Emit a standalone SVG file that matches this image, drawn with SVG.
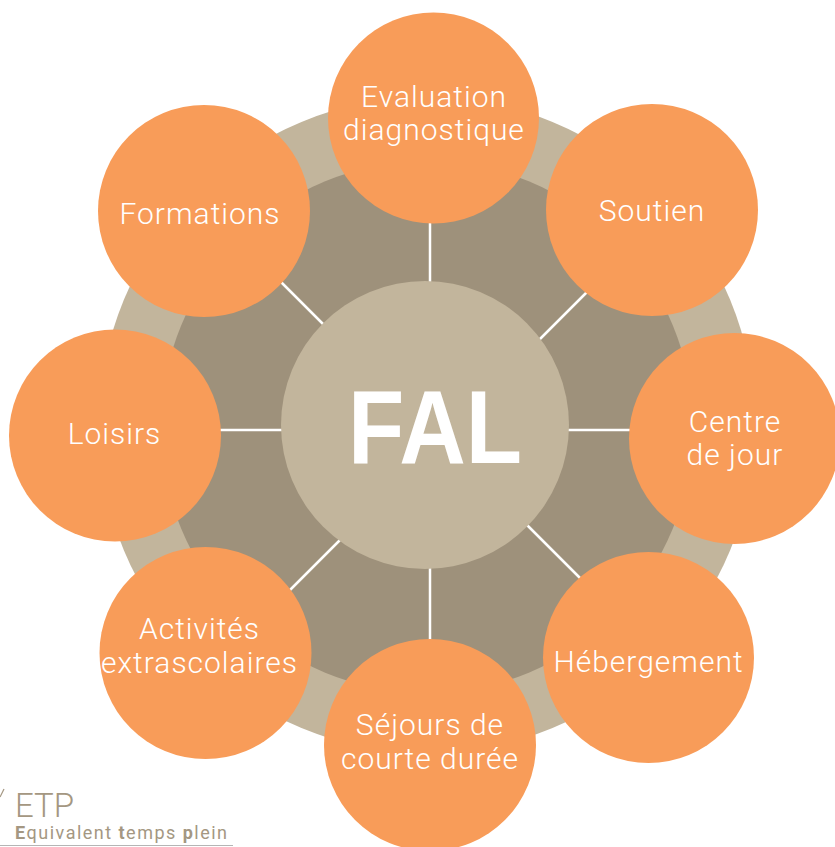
<svg xmlns="http://www.w3.org/2000/svg" width="835" height="847" viewBox="0 0 835 847">
  <style>
    .ring-outer { fill: #C2B59C; }
    .ring-inner { fill: #9E917B; }
    .spoke { stroke: #FFFFFF; stroke-width: 2.5; fill: none; }
    .hub { fill: #C2B59C; }
    .node { fill: #F89C59; }
    .lbl { font-family: Roboto, "Liberation Sans", "Noto Sans", sans-serif; font-size: 30px; font-weight: 300; fill: #FFFFFF; text-anchor: middle; letter-spacing: 1px; }
    .hubtxt { font-family: "Liberation Sans", Roboto, sans-serif; font-size: 104px; font-weight: bold; fill: #FFFFFF; text-anchor: middle; }
    .etp { font-family: Roboto, "Liberation Sans", sans-serif; fill: #A49782; }
  </style>
  <rect width="835" height="847" fill="#FFFFFF"/>

  <g id="rings">
    <circle class="ring-outer" cx="427" cy="425" r="328"/>
    <circle class="ring-inner" cx="427" cy="427" r="266"/>
  </g>

  <g id="connectors">
    <line class="spoke" x1="430" y1="200" x2="430" y2="300"/>
    <line class="spoke" x1="430" y1="550" x2="430" y2="660"/>
    <line class="spoke" x1="200" y1="430" x2="300" y2="430"/>
    <line class="spoke" x1="550" y1="430" x2="650" y2="430"/>
    <line class="spoke" x1="270" y1="271" x2="330" y2="331"/>
    <line class="spoke" x1="600" y1="279" x2="530" y2="349"/>
    <line class="spoke" x1="520" y1="518" x2="590" y2="588"/>
    <line class="spoke" x1="280" y1="600" x2="350" y2="530"/>
  </g>

  <g id="node-fal">
    <circle class="hub" cx="425" cy="425" r="144"/>
    <text class="hubtxt" x="435" y="463" textLength="174" lengthAdjust="spacingAndGlyphs">FAL</text>
  </g>

  <g id="node-evaluation">
    <circle class="node" cx="433.5" cy="118" r="105.5"/>
    <text class="lbl" x="434" y="107">Evaluation</text>
    <text class="lbl" x="434" y="140">diagnostique</text>
  </g>

  <g id="node-soutien">
    <circle class="node" cx="652" cy="210" r="106"/>
    <text class="lbl" x="652" y="221">Soutien</text>
  </g>

  <g id="node-centre">
    <circle class="node" cx="734.5" cy="438.5" r="105.5"/>
    <text class="lbl" x="735" y="432">Centre</text>
    <text class="lbl" x="735" y="465">de jour</text>
  </g>

  <g id="node-hebergement">
    <circle class="node" cx="648.5" cy="657.5" r="105.5"/>
    <text class="lbl" x="648.5" y="672">Hébergement</text>
  </g>

  <g id="node-sejours">
    <circle class="node" cx="430" cy="745" r="106"/>
    <text class="lbl" x="430" y="735">Séjours de</text>
    <text class="lbl" x="430" y="769">courte durée</text>
  </g>

  <g id="node-activites">
    <circle class="node" cx="205.5" cy="653" r="106"/>
    <text class="lbl" x="199.5" y="639">Activités</text>
    <text class="lbl" x="199.5" y="673">extrascolaires</text>
  </g>

  <g id="node-loisirs">
    <circle class="node" cx="115" cy="435.5" r="106"/>
    <text class="lbl" x="114.5" y="444">Loisirs</text>
  </g>

  <g id="node-formations">
    <circle class="node" cx="204" cy="211" r="106"/>
    <text class="lbl" x="200" y="224">Formations</text>
  </g>

  <g id="legend">
    <line x1="0" y1="797" x2="4" y2="789" stroke="#A49782" stroke-width="1.2"/>
    <text class="etp" x="15" y="817" font-size="33" font-weight="300">ETP</text>
    <text class="etp" x="15" y="838.5" font-size="18" textLength="212" lengthAdjust="spacing"><tspan font-weight="bold">E</tspan>quivalent <tspan font-weight="bold">t</tspan>emps <tspan font-weight="bold">p</tspan>lein</text>
    <line x1="0" y1="845.5" x2="233" y2="845.5" stroke="#B5B5B5" stroke-width="1"/>
  </g>
</svg>
